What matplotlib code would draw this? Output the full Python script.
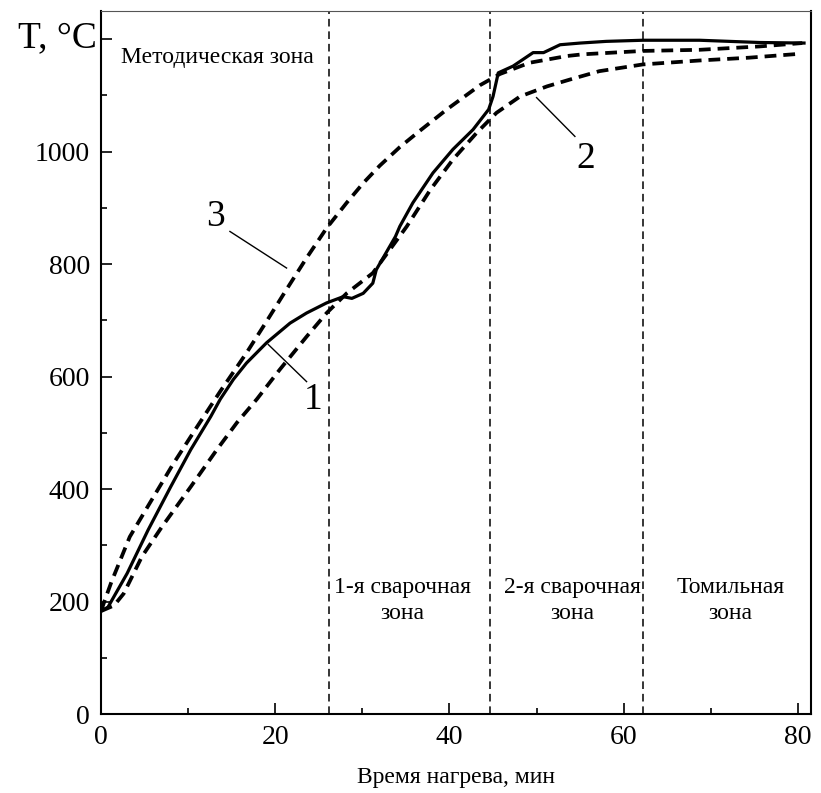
import matplotlib
matplotlib.use("Agg")
import matplotlib.pyplot as plt
from matplotlib.ticker import MultipleLocator, FixedLocator

plt.rcParams['font.family'] = ['Liberation Serif', 'DejaVu Serif']
plt.rcParams['lines.scale_dashes'] = False

# кривая 1 - измеренная температура металла
t1 = [0, 0.8, 3.0, 5.4, 8.0, 10.3, 12.6, 13.7, 15.2, 16.7, 19.0, 21.7, 23.6,
      25.9, 27.8, 28.8, 30.1, 31.2, 31.6, 33.8, 34.3, 35.8, 38.1, 40.4, 42.7,
      44.5, 45.0, 45.6, 47.3, 49.6, 50.8, 52.7, 55.0, 58.0, 62.2, 68.7, 75.6,
      80.7]
T1 = [183, 190, 250, 327, 404, 470, 529, 560, 595, 624, 660, 695, 713,
      731, 742, 739, 748, 766, 790, 849, 867, 909, 962, 1004, 1039,
      1075, 1098, 1140, 1152, 1176, 1176, 1190, 1193, 1196, 1198, 1198, 1194,
      1193]

# кривая 2
t2 = [0, 1.5, 2.6, 4.7, 7.0, 10.3, 13.3, 15.6, 17.9, 20.5, 23.6, 25.9, 28.2,
      31.2, 35.1, 37.8, 40.4, 43.1, 45.4, 48.1, 51.2, 53.8, 57.2, 62.2, 68.7,
      74.4, 80.3]
T2 = [183, 193, 214, 280, 333, 404, 470, 518, 560, 612, 671, 713, 748,
      784, 867, 932, 986, 1033, 1069, 1098, 1116, 1128, 1143, 1155, 1162,
      1167, 1174]

# кривая 3
t3 = [0, 0.5, 1.2, 3.3, 5.6, 8.3, 11.0, 13.7, 16.7, 19.0, 21.3, 23.6, 25.9,
      28.2, 30.1, 32.0, 34.3, 36.6, 39.7, 43.5, 45.8, 49.2, 53.5, 55.3, 62.2,
      68.7, 75.6, 80.5]
T3 = [183, 205, 235, 315, 375, 445, 510, 574, 642, 698, 755, 811, 864,
      909, 944, 975, 1008, 1037, 1075, 1118, 1138, 1158, 1170, 1173, 1179,
      1181, 1187, 1193]

zone_bounds = [26.2, 44.6, 62.2]
zone_names = ['1-я сварочная\nзона', '2-я сварочная\nзона', 'Томильная\nзона']
zone_text_x = [34.6, 54.1, 72.3]

fig = plt.figure(figsize=(8.21, 7.93), dpi=100)
ax = fig.add_axes([101 / 821, 1 - 714 / 793, 710 / 821, 703 / 793])

dash = (0, (8.5, 5))
ax.plot(t1, T1, color='black', lw=2.3, solid_joinstyle='round')
ax.plot(t2, T2, color='black', lw=2.7, linestyle=dash)
ax.plot(t3, T3, color='black', lw=2.7, linestyle=dash)

for xb in zone_bounds:
    ax.axvline(xb, color='black', lw=1.1, linestyle=(0, (5.5, 3.5)))

ax.text(13.4, 1168, 'Методическая зона', ha='center', va='center', fontsize=17)
for xt, name in zip(zone_text_x, zone_names):
    ax.text(xt, 202, name, ha='center', va='center', fontsize=17,
            linespacing=1.35)

# выноски с номерами кривых
ax.plot([19.2, 23.6], [657, 591], color='black', lw=1.0)
ax.text(24.3, 559, '1', ha='center', va='center', fontsize=27)
ax.plot([50.0, 54.4], [1096, 1027], color='black', lw=1.0)
ax.text(55.6, 988, '2', ha='center', va='center', fontsize=27)
ax.plot([14.8, 21.3], [858, 793], color='black', lw=1.0)
ax.text(13.1, 884, '3', ha='center', va='center', fontsize=27)

ax.set_xlim(0, 81.5)
ax.set_ylim(0, 1250)
ax.xaxis.set_major_locator(MultipleLocator(20))
ax.xaxis.set_minor_locator(MultipleLocator(10))
ax.yaxis.set_major_locator(FixedLocator([0, 200, 400, 600, 800, 1000, 1200]))
ax.yaxis.set_minor_locator(MultipleLocator(100))
ax.set_yticklabels(['0', '200', '400', '600', '800', '1000', ''])
ax.tick_params(which='both', direction='in', labelsize=20, width=1.2)
ax.tick_params(which='major', length=8, pad=8)
ax.tick_params(which='minor', length=4.5)

for side in ['left', 'bottom', 'right']:
    ax.spines[side].set_linewidth(1.5)
ax.spines['top'].set_linewidth(0.8)
ax.spines['top'].set_color('#555555')

ax.set_xlabel('Время нагрева, мин', fontsize=17, labelpad=12)
fig.text(97 / 821, 1 - 47 / 793, 'T, °C', ha='right', va='baseline',
         fontsize=27)

fig.savefig('out.png', dpi=100)
